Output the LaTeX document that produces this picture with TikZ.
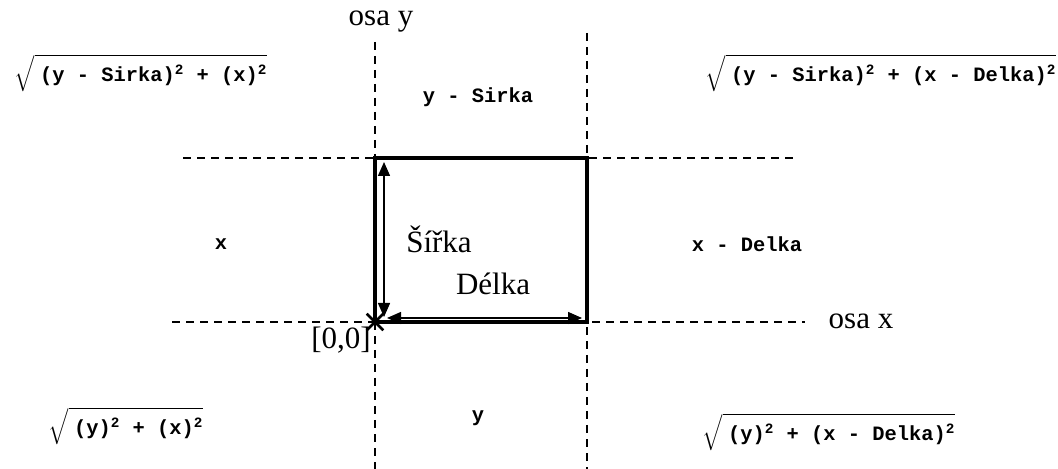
\documentclass[tikz,border=0pt]{standalone}
\usepackage{amsmath}
\usepackage{fontspec}
\setmainfont{Liberation Serif}
\setmonofont{Liberation Mono}
\usepackage{tikz}
\usetikzlibrary{arrows.meta,positioning,shapes.misc}
\tikzset{
  axis/.style={draw, line width=0.75pt, dash pattern=on 4pt off 3pt},
  frame/.style={draw, line width=1.6pt},
  dim/.style={{Triangle[length=7pt,width=6pt]}-{Triangle[length=7pt,width=6pt]}, line width=0.7pt},
  lbl/.style={font=\fontsize{15.5}{18}\selectfont, inner sep=0pt},
  code/.style={font=\fontsize{10.2}{12}\selectfont\ttfamily\bfseries, inner sep=0pt},
}
\newcommand{\rootof}[1]{$\sqrt{\rule[-4.5pt]{0pt}{16pt}\;\text{#1}}$}
\begin{document}
\begin{tikzpicture}[x=0.5pt,y=-0.5pt]
  \useasboundingbox (0,0) rectangle (1058,469);

  % corners of the box
  \coordinate (O) at (375,322);
  \coordinate (A) at (587,322);
  \coordinate (B) at (587,158);
  \coordinate (C) at (375,158);

  % dashed axes
  \coordinate (ylt) at (375,42);  \coordinate (ylb) at (375,469);
  \coordinate (yrt) at (587,33);  \coordinate (yrb) at (587,469);
  \coordinate (xtl) at (183,158); \coordinate (xtr) at (793,158);
  \coordinate (xbl) at (172,322); \coordinate (xbr) at (805,322);
  \draw[axis] (ylt) -- (ylb);
  \draw[axis] (yrt) -- (yrb);
  \draw[axis] (xtl) -- (xtr);
  \draw[axis] (xbl) -- (xbr);

  \draw[frame] (O) rectangle (B);
  \draw[dim] ([shift={(9,4)}]C) -- ([shift={(9,-5)}]O);
  \draw[dim] ([shift={(12,-4)}]O) -- ([shift={(-5,-4)}]A);
  \node[cross out, draw, line width=1.3pt, minimum size=7pt, inner sep=0pt] (orig) at (O) {};

  \node[lbl] (osay) at (381,22) {osa y};
  \node[lbl] (osax) at (861,321) {osa x};
  \node[lbl] (zero) at (341,340) {[0,0]};
  \node[lbl] (sirka) at (439,239) {Šířka};
  \node[lbl] (delka) at (493,284) {Délka};

  \node[code] (top)   at (478,97)  {y - Sirka};
  \node[code] (left)  at (221,244) {x};
  \node[code] (right) at (747,244) {x - Delka};
  \node[code] (bot)   at (478,418) {y};

  \node[code] (tl) at (141,73)  {\rootof{(y - Sirka)\textsuperscript{2} + (x)\textsuperscript{2}}};
  \node[code] (tr) at (881,73)  {\rootof{(y - Sirka)\textsuperscript{2} + (x - Delka)\textsuperscript{2}}};
  \node[code] (bl) at (126,426) {\rootof{(y)\textsuperscript{2} + (x)\textsuperscript{2}}};
  \node[code] (br) at (829,432) {\rootof{(y)\textsuperscript{2} + (x - Delka)\textsuperscript{2}}};
\end{tikzpicture}
\end{document}
